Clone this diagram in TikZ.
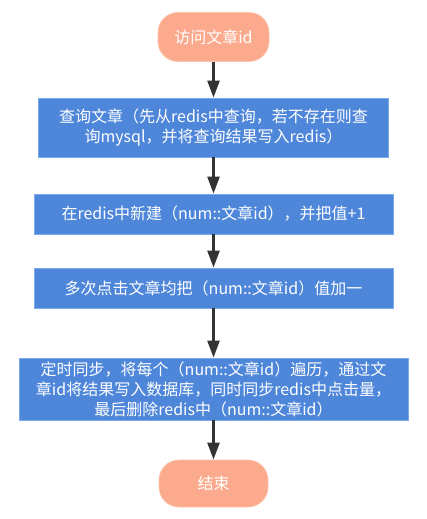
\documentclass[tikz,border=0pt]{standalone}
\usepackage{fontspec}
\newfontfamily\cjk{Noto Sans CJK SC}
\usetikzlibrary{arrows.meta}
\definecolor{boxblue}{HTML}{4E86DA}
\definecolor{boxedge}{HTML}{7AA8EC}
\definecolor{salmon}{HTML}{FCAA8D}
\definecolor{salmonedge}{HTML}{FDC4AE}
\definecolor{arrowgray}{HTML}{333333}
\tikzset{
  procbox/.style={draw=boxedge, line width=0.8pt, fill=boxblue, text=white, inner sep=0pt, align=center,
    font=\cjk\fontsize{16}{20}\selectfont},
  termbox/.style={draw=salmonedge, line width=0.8pt, fill=salmon, text=white, inner sep=0pt, align=center,
    rounded corners=20pt, font=\cjk\fontsize{16}{20}\selectfont},
  arr/.style={draw=arrowgray, line width=2.5pt, -{Triangle[length=17pt,width=12pt]}, shorten >=0pt}
}
\begin{document}
\begin{tikzpicture}[x=1pt,y=-1pt]
\useasboundingbox (0,0) rectangle (427,519);
\node[termbox, minimum width=111pt, minimum height=49pt] (s) at (213.5,37) {访问文章id};
\node[procbox, minimum width=350pt, minimum height=59pt] (b1) at (213.5,127.5) {查询文章（先从redis中查询，若不存在则查\\询mysql，并将查询结果写入redis）};
\node[procbox, minimum width=359pt, minimum height=40pt] (b2) at (213.5,214) {在redis中新建（num::文章id），并把值+1};
\node[procbox, minimum width=359pt, minimum height=40pt] (b3) at (213.5,288) {多次点击文章均把（num::文章id）值加一};
\node[procbox, minimum width=389pt, minimum height=62pt] (b4) at (213.5,389) {定时同步，将每个（num::文章id）遍历，通过文\\章id将结果写入数据库，同时同步redis中点击量，\\最后删除redis中（num::文章id）};
\node[termbox, minimum width=109pt, minimum height=47pt] (e) at (213.5,483.5) {结束};
\draw[arr] (s) -- (b1);
\draw[arr] (b1) -- (b2);
\draw[arr] (b2) -- (b3);
\draw[arr] (b3) -- (b4);
\draw[arr] (b4) -- (e);
\end{tikzpicture}
\end{document}
